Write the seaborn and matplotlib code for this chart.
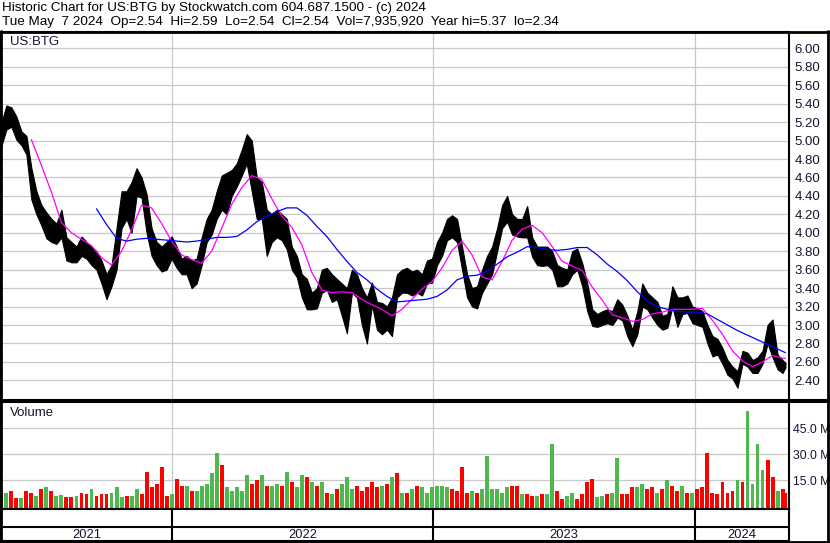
import numpy as np
import pandas as pd
import matplotlib
matplotlib.use("Agg")
import matplotlib.pyplot as plt
import seaborn as sns
from matplotlib.lines import Line2D

# weekly readings off the US:BTG chart (May 2021 - May 7 2024)
week_dates = list(pd.date_range("2021-05-07", periods=157, freq="7D")) + [pd.Timestamp("2024-05-07")]

high = [5.19, 5.38, 5.36, 5.26, 5.10, 5.05, 4.70, 4.45, 4.30, 4.22,
        4.15, 4.10, 4.25, 3.95, 3.90, 3.85, 3.96, 3.90, 3.85, 3.80,
        3.70, 3.55, 3.65, 4.05, 4.45, 4.45, 4.55, 4.70, 4.60, 4.42,
        4.05, 3.90, 3.85, 3.90, 3.96, 3.85, 3.72, 3.75, 3.70, 3.72,
        3.95, 4.15, 4.25, 4.45, 4.62, 4.65, 4.68, 4.75, 4.90, 5.07,
        5.00, 4.60, 4.55, 4.25, 4.20, 4.25, 4.20, 4.15, 3.85, 3.75,
        3.55, 3.50, 3.35, 3.40, 3.60, 3.62, 3.55, 3.50, 3.45, 3.40,
        3.60, 3.55, 3.40, 3.30, 3.46, 3.25, 3.24, 3.20, 3.30, 3.55,
        3.60, 3.62, 3.58, 3.60, 3.55, 3.70, 3.72, 3.90, 4.00, 4.15,
        4.19, 4.15, 3.85, 3.55, 3.40, 3.42, 3.60, 3.75, 3.85, 4.05,
        4.30, 4.40, 4.20, 4.15, 4.15, 4.29, 3.95, 3.85, 3.85, 3.85,
        3.80, 3.65, 3.62, 3.60, 3.80, 3.83, 3.67, 3.45, 3.17, 3.12,
        3.15, 3.17, 3.15, 3.28, 3.22, 3.10, 2.95, 3.15, 3.45, 3.35,
        3.30, 3.25, 3.10, 3.12, 3.42, 3.30, 3.30, 3.32, 3.20, 3.18,
        3.15, 3.00, 2.88, 2.85, 2.75, 2.62, 2.55, 2.50, 2.72, 2.70,
        2.62, 2.65, 2.72, 3.00, 3.06, 2.68, 2.62, 2.59]
low = [4.94, 5.12, 5.15, 5.01, 4.95, 4.85, 4.36, 4.20, 4.08, 3.94,
       3.90, 3.88, 3.95, 3.70, 3.68, 3.68, 3.75, 3.72, 3.65, 3.60,
       3.45, 3.28, 3.42, 3.60, 4.05, 4.15, 4.00, 4.40, 4.38, 4.00,
       3.75, 3.65, 3.58, 3.60, 3.72, 3.62, 3.55, 3.55, 3.40, 3.45,
       3.65, 3.90, 3.98, 4.15, 4.25, 4.20, 4.40, 4.50, 4.62, 4.75,
       4.45, 4.15, 4.15, 3.75, 3.90, 3.95, 3.92, 3.82, 3.60, 3.52,
       3.30, 3.17, 3.17, 3.18, 3.35, 3.38, 3.25, 3.28, 3.10, 2.91,
       3.35, 3.30, 3.00, 2.80, 3.22, 2.95, 2.90, 2.95, 2.88, 3.30,
       3.35, 3.35, 3.32, 3.35, 3.32, 3.45, 3.46, 3.65, 3.75, 3.92,
       3.95, 3.90, 3.60, 3.30, 3.20, 3.18, 3.35, 3.45, 3.55, 3.80,
       4.05, 4.12, 3.98, 3.96, 3.95, 3.95, 3.74, 3.65, 3.64, 3.65,
       3.60, 3.42, 3.42, 3.45, 3.55, 3.60, 3.42, 3.15, 2.99, 2.98,
       3.00, 3.02, 3.00, 3.08, 3.05, 2.88, 2.77, 2.90, 3.20, 3.17,
       3.08, 3.00, 2.95, 2.97, 3.20, 2.98, 3.12, 3.13, 3.02, 3.00,
       2.98, 2.80, 2.66, 2.68, 2.58, 2.46, 2.42, 2.32, 2.58, 2.55,
       2.48, 2.48, 2.58, 2.80, 2.65, 2.52, 2.48, 2.54]

# volume in millions, one typical daily bar per week
volume_m = [7, 8, 9, 5, 5, 9, 8, 6, 10, 11,
            9, 6, 6.5, 5.5, 5.5, 6, 8, 7, 10, 6,
            7, 7, 8, 11, 5.5, 6, 6, 10, 7, 20,
            11, 13, 23, 6, 7, 16, 12, 12, 9, 9,
            12, 13, 19, 31, 24, 11, 9, 11, 9, 18,
            13, 15, 18, 12, 12, 13, 12, 20, 14, 11,
            18, 17, 14, 12, 14, 8, 7, 10, 13, 17,
            10, 12, 9, 11, 14, 11, 12, 13, 17, 19,
            8, 8, 10, 12, 11, 8, 11, 12, 12, 11,
            10, 9, 23, 8, 9, 8, 10, 29, 10, 10,
            8, 11, 12, 12, 7, 7, 6, 6, 7, 7,
            36, 9, 4, 6, 8, 4, 7, 14, 16, 5.5,
            6, 7, 8, 28, 7, 7, 11, 11, 13, 10,
            11, 8, 10, 15, 12, 9, 12, 8, 8, 10,
            11, 31, 8, 7, 14, 8, 9, 15, 14, 55,
            13, 36, 21, 27, 17, 9, 10, 7.9]
vol_dir = ("rgrrgrrgrg" "rggrrgrrgr" "rrgggrggrr" "rrrrgrrgrg" "ggggrggggg"
           "rrgrggrgrg" "grgrgrgrgg" "grrrrrgrgr" "grgrgggggg" "rrrrgrgggg"
           "ggrrgrrgrg" "grrggrrrrg" "grggrrrggr" "rgrgrrgrgr" "rrrrrrrgrg"
           "gggrrgrr")

# moving averages
ma_fast = [5.01, 4.73, 4.44, 4.11, 4.00, 3.93, 3.86, 3.73, 3.65, 3.80,
           4.03, 4.30, 4.27, 4.10, 3.91, 3.76, 3.71, 3.67, 3.80, 4.05,
           4.31, 4.49, 4.62, 4.58, 4.37, 4.18, 4.06, 3.87, 3.57, 3.38,
           3.35, 3.36, 3.35, 3.28, 3.22, 3.17, 3.10, 3.17, 3.28, 3.39,
           3.47, 3.62, 3.81, 3.91, 3.76, 3.52, 3.49, 3.69, 3.92, 4.04,
           4.08, 4.00, 3.85, 3.69, 3.64, 3.59, 3.41, 3.27, 3.11, 3.08,
           3.04, 3.06, 3.12, 3.14, 3.17, 3.17, 3.17, 3.18, 3.05, 2.90,
           2.72, 2.61, 2.55, 2.60, 2.67, 2.64, 2.64]
ma_slow = [4.26, 4.09, 3.94, 3.91, 3.93, 3.94, 3.93, 3.92, 3.91, 3.90,
           3.91, 3.93, 3.95, 3.95, 3.96, 4.03, 4.12, 4.18, 4.23, 4.27,
           4.27, 4.19, 4.07, 3.96, 3.82, 3.69, 3.57, 3.49, 3.39, 3.31,
           3.25, 3.26, 3.27, 3.28, 3.31, 3.38, 3.49, 3.53, 3.54, 3.58,
           3.66, 3.74, 3.79, 3.85, 3.84, 3.82, 3.81, 3.82, 3.84, 3.84,
           3.76, 3.66, 3.58, 3.48, 3.36, 3.26, 3.20, 3.17, 3.15, 3.14,
           3.14, 3.12, 3.06, 3.00, 2.94, 2.89, 2.84, 2.79, 2.74, 2.70]

price_ticks = [2.40, 2.60, 2.80, 3.00, 3.20, 3.40, 3.60, 3.80, 4.00, 4.20,
               4.40, 4.60, 4.80, 5.00, 5.20, 5.40, 5.60, 5.80, 6.00]
vol_ticks = [15, 30, 45]
years = ["2021", "2022", "2023", "2024"]
year_starts = pd.to_datetime(["2022-01-01", "2023-01-01", "2024-01-01"])

header1 = "Historic Chart for US:BTG by Stockwatch.com 604.687.1500 - (c) 2024"
header2 = ("Tue May  7 2024  Op=2.54  Hi=2.59  Lo=2.54  Cl=2.54  "
           "Vol=7,935,920  Year hi=5.37  lo=2.34")

price = pd.DataFrame({"date": week_dates, "high": high, "low": low,
                      "vol": volume_m, "dir": list(vol_dir)})
fast = pd.DataFrame({"date": week_dates[6:157:2] + [week_dates[157]], "ma": ma_fast})
slow = pd.DataFrame({"date": week_dates[19:156:2] + [week_dates[157]], "ma": ma_slow})

sns.set_style("white")
plt.rcParams["font.family"] = ["Liberation Sans", "DejaVu Sans"]
txt = "#141432"
fs = 9.5

W, H = 830, 543
def rect(x0, y0, x1, y1):
    return [x0 / W, 1 - y1 / H, (x1 - x0) / W, (y1 - y0) / H]

fig = plt.figure(figsize=(W / 100, H / 100), dpi=100)
ax_p = fig.add_axes(rect(1, 32, 789, 400))
ax_v = fig.add_axes(rect(1, 402, 789, 509))
ax_x = fig.add_axes(rect(1, 509, 789, 541))

x0, x1 = pd.Timestamp("2021-05-06 12:00"), pd.Timestamp("2024-05-12")

# price panel
ax_p.fill_between(price.date, price.low, price.high, color="black", lw=0.8)
sns.lineplot(data=fast, x="date", y="ma", color="#ff00ff", lw=0.9, ax=ax_p)
sns.lineplot(data=slow, x="date", y="ma", color="#0000ff", lw=0.9, ax=ax_p)
ax_p.set_xlim(x0, x1)
ax_p.set_ylim(2.187, 6.177)
ax_p.set_yticks(price_ticks)
ax_p.set_yticklabels([f"{t:.2f}" for t in price_ticks])
ax_p.set_xticks(year_starts)
ax_p.set_xticklabels([])
ax_p.yaxis.tick_right()
ax_p.tick_params(axis="y", length=0, pad=4, labelsize=fs, labelcolor=txt)
ax_p.tick_params(axis="x", length=0)
ax_p.grid(True, color="#c8c8c8", lw=0.9)
ax_p.set_xlabel("")
ax_p.set_ylabel("")
ax_p.text(9 / 788, 1 - 10 / 368, "US:BTG", transform=ax_p.transAxes,
          fontsize=fs, color=txt, va="center")

# volume panel
cols = {"r": "#ff0000", "g": "#4db84d"}
ax_v.bar(price.date, price.vol + 1.5, bottom=-1.5, width=5.5,
         color=[cols[d] for d in price.dir], lw=0)
ax_v.set_xlim(x0, x1)
ax_v.set_ylim(-1.5, 60.2)
ax_v.set_yticks(vol_ticks)
ax_v.set_yticklabels([f"{t:.1f} M" for t in vol_ticks])
ax_v.set_xticks(year_starts)
ax_v.set_xticklabels([])
ax_v.yaxis.tick_right()
ax_v.tick_params(axis="y", length=0, pad=3, labelsize=8.8, labelcolor=txt)
ax_v.tick_params(axis="x", length=0)
ax_v.grid(True, color="#c8c8c8", lw=0.9)
ax_v.text(9 / 788, 1 - 11 / 107, "Volume", transform=ax_v.transAxes,
          fontsize=fs, color=txt, va="center")

# date strip
ax_x.set_xlim(x0, x1)
ax_x.set_ylim(0, 1)
ax_x.set_xticks([])
ax_x.set_yticks([])
for d in year_starts:
    ax_x.axvline(d, color="black", lw=1.5)
ax_x.axhline(14 / 32, color="black", lw=1.5)
edges = [x0] + list(year_starts) + [x1]
for i, y in enumerate(years):
    mid = edges[i] + (edges[i + 1] - edges[i]) / 2
    ax_x.text(mid, 6.5 / 32, y, ha="center", va="center", fontsize=9.3, color=txt)

for ax in (ax_p, ax_v, ax_x):
    for s in ax.spines.values():
        s.set_color("black")
        s.set_linewidth(1.5)

# outer frame lines
def hline(y, xa, xb, lw=1.5):
    fig.add_artist(Line2D([xa / W, xb / W], [1 - y / H, 1 - y / H], color="black", lw=lw))
def vline(x, ya, yb, lw=1.5):
    fig.add_artist(Line2D([x / W, x / W], [1 - ya / H, 1 - yb / H], color="black", lw=lw))

hline(32, 0, 829, lw=2)
hline(400, 789, 829)
hline(402, 789, 829)
hline(541.5, 0, 829, lw=2)
vline(828, 31, 542, lw=2)
vline(0.8, 31, 542, lw=2)

fig.text(2 / W, 1 - 8 / H, header1, fontsize=9.7, color="black", va="center")
fig.text(2 / W, 1 - 22 / H, header2, fontsize=9.7, color="black", va="center")

fig.savefig("out.png", dpi=100)
